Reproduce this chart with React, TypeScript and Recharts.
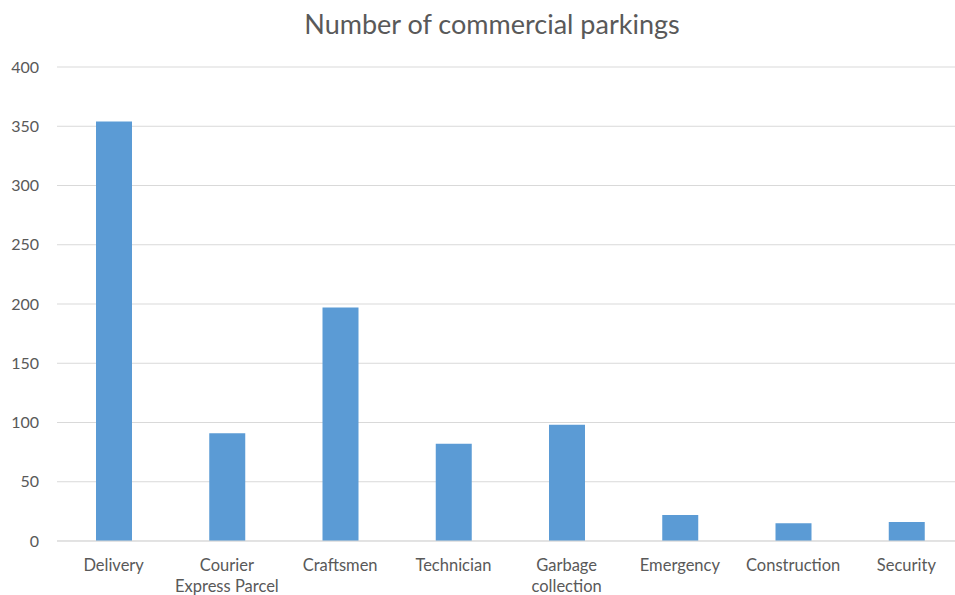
import React from "react";
import { BarChart, Bar, XAxis, YAxis, CartesianGrid } from "recharts";

const categories = [
  "Delivery",
  "Courier\nExpress Parcel",
  "Craftsmen",
  "Technician",
  "Garbage\ncollection",
  "Emergency",
  "Construction",
  "Security",
];
const parkings = [354, 91, 197, 82, 98, 22, 15, 16];
const yTicks = [0, 50, 100, 150, 200, 250, 300, 350, 400];
const title = "Number of commercial parkings";

const data = categories.map((c, i) => ({ name: c, value: parkings[i] }));

const FONT = "Lato, 'Open Sans', sans-serif";
const TEXT = "#595959";

const CategoryTick = (props: any) => {
  const { x, y, payload } = props;
  const lines = String(payload.value).split("\n");
  return (
    <g transform={`translate(${x},${y})`}>
      {lines.map((l: string, i: number) => (
        <text
          key={i}
          x={0}
          y={0}
          dy={22 + i * 21}
          textAnchor="middle"
          fill={TEXT}
          fontSize={16.5}
          fontFamily={FONT}
        >
          {l}
        </text>
      ))}
    </g>
  );
};

export default function App() {
  return (
    <div
      style={{
        position: "relative",
        width: 955,
        height: 595,
        overflow: "hidden",
        background: "#fff",
      }}
    >
      <style>{`html,body{margin:0;padding:0;overflow:hidden;}`}</style>
      <div
        style={{
          position: "absolute",
          top: 7,
          left: 0,
          width: 984,
          textAlign: "center",
          fontFamily: FONT,
          fontSize: 27,
          color: TEXT,
        }}
      >
        {title}
      </div>
      <BarChart
        width={970}
        height={595}
        data={data}
        margin={{ top: 67, right: 7, bottom: 0, left: 0 }}
      >
        <CartesianGrid vertical={false} stroke="#d9d9d9" />
        <XAxis
          dataKey="name"
          tickLine={false}
          axisLine={{ stroke: "#d9d9d9" }}
          height={54}
          interval={0}
          tick={<CategoryTick />}
        />
        <YAxis
          width={57}
          domain={[0, 400]}
          ticks={yTicks}
          axisLine={false}
          tickLine={false}
          tickMargin={12}
          tick={{ fill: TEXT, fontSize: 16, fontFamily: FONT }}
        />
        <Bar dataKey="value" fill="#5B9BD5" barSize={36} isAnimationActive={false} />
      </BarChart>
    </div>
  );
}
